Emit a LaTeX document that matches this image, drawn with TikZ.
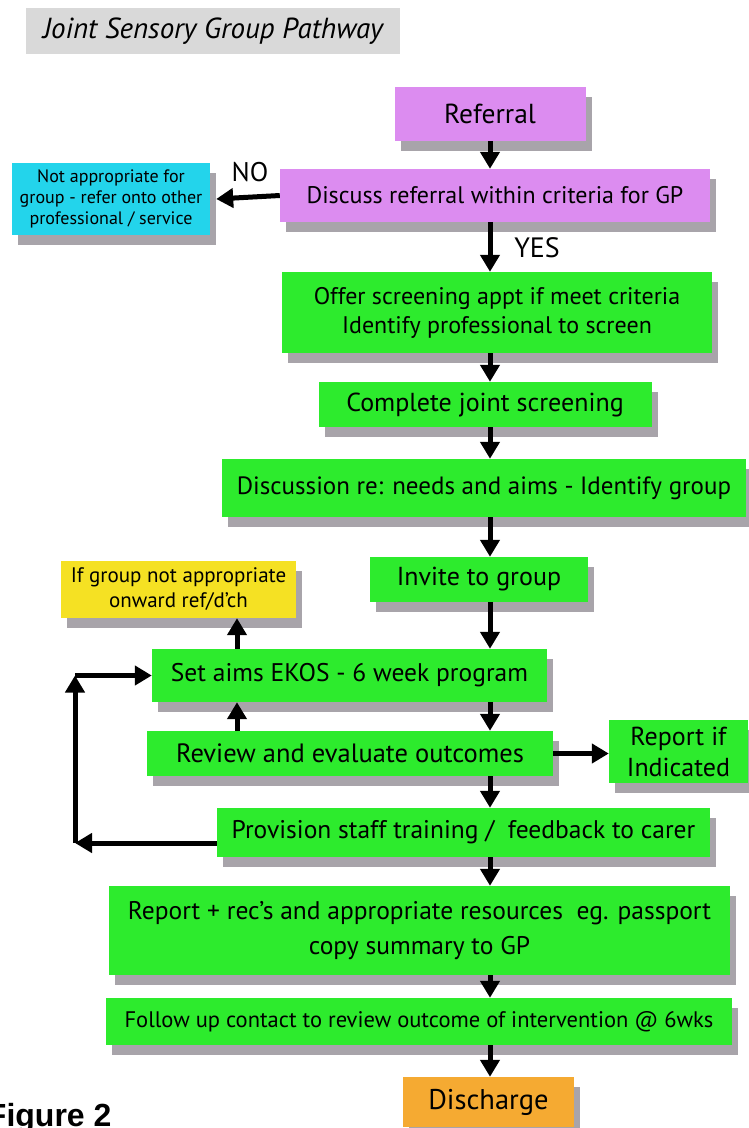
\documentclass[tikz,border=0pt]{standalone}
\usepackage{fontspec}
\setmainfont{PT Sans}
\newfontfamily\figfont{Liberation Sans}
\usepackage{tikz}
\usetikzlibrary{arrows.meta}
\usetikzlibrary{shadows}
\definecolor{lilac}{RGB}{220,140,240}
\definecolor{aqua}{RGB}{35,212,235}
\definecolor{lime}{RGB}{45,235,45}
\definecolor{gold}{RGB}{245,225,35}
\definecolor{amber}{RGB}{245,170,50}
\definecolor{shade}{RGB}{168,164,170}
\definecolor{banner}{RGB}{217,217,217}
\newcommand{\fs}[2]{\fontsize{#1}{#2}\selectfont}
\tikzset{box/.style = {rectangle, inner sep = 0, align = center, font = \fs{25.5}{30},
                       drop shadow = {shadow xshift = 6pt, shadow yshift = -10pt,
                                      fill = shade, opacity = 1}}}
\tikzset{flow/.style = {line width = 5pt, -{Triangle[width = 19pt, length = 17pt]}}}

\begin{document}
\begin{tikzpicture}[x = 1pt, y = -1pt]
      \useasboundingbox (0, 0) rectangle (749, 1128);
      \coordinate (spine) at (490, 0);

      \node [fill = banner, minimum width = 374, minimum height = 46,
             font = \fs{29}{34}\itshape] (title) at (213, 31) {Joint Sensory Group Pathway};

      \node [box, fill = lilac, minimum width = 191, minimum height = 54, font = \fs{27.5}{32}] (ref) at (490, 114) {Referral};
      \node [box, fill = lilac, minimum width = 430, minimum height = 53, font = \fs{24}{29}] (disc) at (495, 195.5) {Discuss referral within criteria for GP};
      \node [box, fill = aqua, minimum width = 198, minimum height = 72, font = \fs{18}{21}] (other) at (111, 199)
            {Not appropriate for\\group - refer onto other\\professional / service};
      \node [box, fill = lime, minimum width = 430, minimum height = 81, font = \fs{24}{29}] (offer) at (497, 312.5)
            {Offer screening appt if meet criteria\\Identify professional to screen};
      \node [box, fill = lime, minimum width = 333, minimum height = 45, font = \fs{26}{30}] (screen) at (485, 404.5) {Complete joint screening};
      \node [box, fill = lime, minimum width = 524, minimum height = 58, font = \fs{25}{30}] (needs) at (484, 488) {Discussion re: needs and aims - Identify group};
      \node [box, fill = lime, minimum width = 218, minimum height = 45, font = \fs{26}{30}] (invite) at (479, 579.5) {Invite to group};
      \node [box, fill = gold, minimum width = 235, minimum height = 57, font = \fs{21}{25}] (onward) at (178.5, 589.5)
            {If group not appropriate\\onward ref/d'ch};
      \node [box, fill = lime, minimum width = 395, minimum height = 53] (aims) at (349.5, 675.5) {Set aims EKOS - 6 week program};
      \node [box, fill = lime, minimum width = 406, minimum height = 45, font = \fs{26.5}{30}] (review) at (350, 753.5) {Review and evaluate outcomes};
      \node [box, fill = lime, minimum width = 139, minimum height = 63, font = \fs{26}{31}] (indicated) at (678.5, 751.5) {Report if\\Indicated};
      \node [box, fill = lime, minimum width = 493, minimum height = 49] (training) at (463.5, 832.5) {Provision staff training /~ feedback to carer};
      \node [box, fill = lime, minimum width = 621, minimum height = 89, font = \fs{25.5}{35}] (recs) at (419.5, 930.5)
            {Report + rec's and appropriate resources~ eg. passport\\copy summary to GP};
      \node [box, fill = lime, minimum width = 626, minimum height = 47, font = \fs{22.5}{26}] (follow) at (419, 1021.5)
            {Follow up contact to review outcome of intervention @ 6wks};
      \node [box, fill = amber, minimum width = 171, minimum height = 50, font = \fs{28.5}{32}] (discharge) at (488.5, 1102) {Discharge};

      \node [font = \fs{27}{30}] (no) at (250, 172) {NO};
      \node [font = \fs{28}{30}] (yes) at (537, 248) {YES};
      \node [anchor = base east, font = \figfont\bfseries\fs{32}{36}] (fig) at (115, 1126) {Figure 2};

      \coordinate (low) at (75, 843);
      \coordinate (high) at (75, 675.5);

      \draw [flow] (spine |- ref.south) -- (spine |- disc.north);
      \draw [flow] (disc.west) -- ([xshift = 6pt] other.east);
      \draw [flow] (spine |- disc.south) -- (spine |- offer.north);
      \draw [flow] (spine |- offer.south) -- (spine |- screen.north);
      \draw [flow] (spine |- screen.south) -- (spine |- needs.north);
      \draw [flow] (spine |- needs.south) -- (spine |- invite.north);
      \draw [flow] (spine |- invite.south) -- (spine |- aims.north);
      \draw [flow] (237, 0 |- aims.north) -- (237, 0 |- onward.south);
      \draw [flow] (spine |- aims.south) -- (spine |- review.north);
      \draw [flow] (237, 0 |- review.north) -- (237, 0 |- aims.south);
      \draw [flow] (review.east) -- (review.east -| indicated.west);
      \draw [flow] (spine |- review.south) -- (spine |- training.north);
      \draw [flow] (training.west |- low) -- (low);
      \draw [flow] (low) -- (high);
      \draw [flow] (high) -- (aims.west);
      \draw [flow] (spine |- training.south) -- (spine |- recs.north);
      \draw [flow] (spine |- recs.south) -- (spine |- follow.north);
      \draw [flow] (spine |- follow.south) -- (spine |- discharge.north);
    \end{tikzpicture}
\end{document}
